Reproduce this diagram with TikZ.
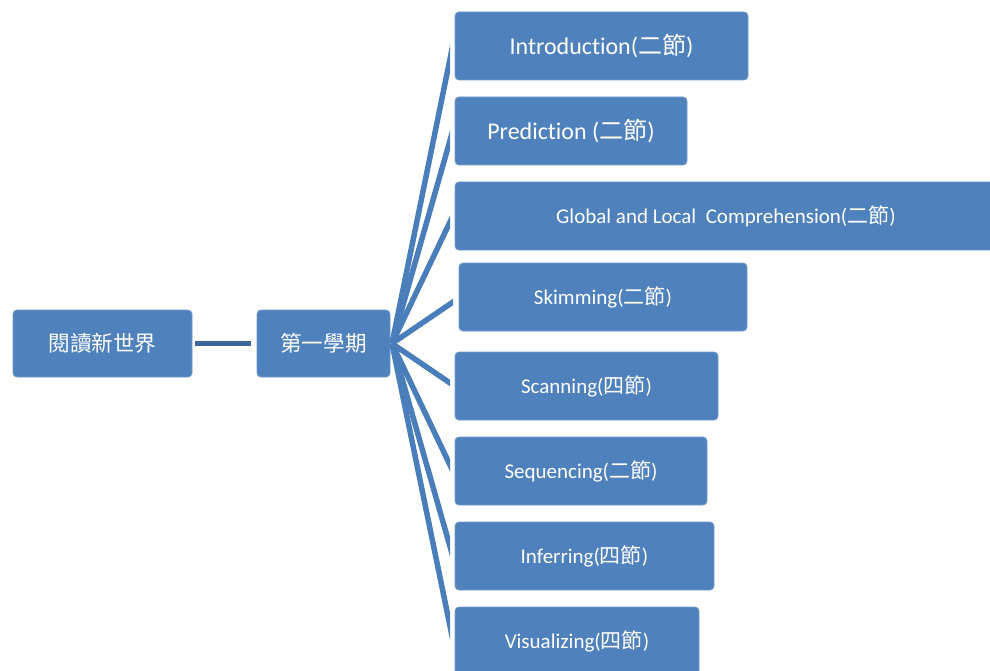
\documentclass[tikz,border=0pt]{standalone}
\usepackage{fontspec}
\setmainfont{Carlito}[Ligatures=CommonOff]
\newfontfamily\cjk{Noto Sans CJK TC}
\usetikzlibrary{calc}
\definecolor{boxblue}{HTML}{4F81BD}
\definecolor{linkblue}{HTML}{4A7EBB}
\definecolor{darklink}{HTML}{3C6696}
\tikzset{
  box/.style={fill=boxblue, draw=boxblue!80!white, line width=0.8pt, rounded corners=4pt,
    text=white, inner sep=0pt, align=center},
  bigtext/.style={font=\fontsize{24}{28}\selectfont},
  smalltext/.style={font=\fontsize{21}{25}\selectfont},
  roottext/.style={font=\fontsize{21.6}{25}\selectfont},
  fan/.style={draw=linkblue, line width=5.5pt},
  midlink/.style={draw=darklink, line width=5.5pt},
}
\begin{document}
\begin{tikzpicture}[x=1pt,y=-1pt]
\useasboundingbox (0,0) rectangle (990,671);
\clip (0,0) rectangle (990,671);
% nodes
\node[box, roottext, minimum width=179pt, minimum height=67pt] (root) at (102.5,343.5) {{\cjk 閱讀新世界}};
\node[box, roottext, minimum width=133pt, minimum height=67pt] (term) at (323.5,343.5) {{\cjk 第一學期}};
\node[box, bigtext, minimum width=293pt, minimum height=68pt] (b1) at (601.5,46) {Introduction({\cjk 二節})};
\node[box, bigtext, minimum width=232pt, minimum height=68pt] (b2) at (571,131) {Prediction ({\cjk 二節})};
\node[box, smalltext, minimum width=542pt, minimum height=68pt] (b3) at (726,216) {Global and Local\ \ Comprehension({\cjk 二節})};
\node[box, smalltext, minimum width=288pt, minimum height=68pt] (b4) at (603,297) {Skimming({\cjk 二節})};
\node[box, smalltext, minimum width=263pt, minimum height=68pt] (b5) at (586.5,386) {Scanning({\cjk 四節})};
\node[box, smalltext, minimum width=252pt, minimum height=68pt] (b6) at (581,471) {Sequencing({\cjk 二節})};
\node[box, smalltext, minimum width=259pt, minimum height=68pt] (b7) at (584.5,556) {Inferring({\cjk 四節})};
\node[box, smalltext, minimum width=244pt, minimum height=68pt] (b8) at (577,641) {Visualizing({\cjk 四節})};
% middle connector
\draw[midlink] ($(root.east)+(3,0)$) -- ($(term.west)+(-6,0)$);
% fan connectors (free ends as coordinates, cut vertically at the boxes)
\coordinate (e1) at (450,59);
\coordinate (e2) at (450,140.5);
\coordinate (e3) at (450,222);
\coordinate (e4) at (453,302);
\coordinate (e5) at (450,383);
\coordinate (e6) at (450,465);
\coordinate (e7) at (450,546.5);
\coordinate (e8) at (450,626);
\coordinate (fanroot) at (392,343.5);
\begin{scope}
  \clip (0,0) rectangle (450,671);
  \foreach \e in {e1,e2,e3,e5,e6,e7,e8}{
    \draw[fan] (fanroot) -- ($(fanroot)!1.1!(\e)$);
  }
\end{scope}
\begin{scope}
  \clip (0,0) rectangle (453,671);
  \draw[fan] (fanroot) -- ($(fanroot)!1.1!(e4)$);
\end{scope}
\end{tikzpicture}
\end{document}
